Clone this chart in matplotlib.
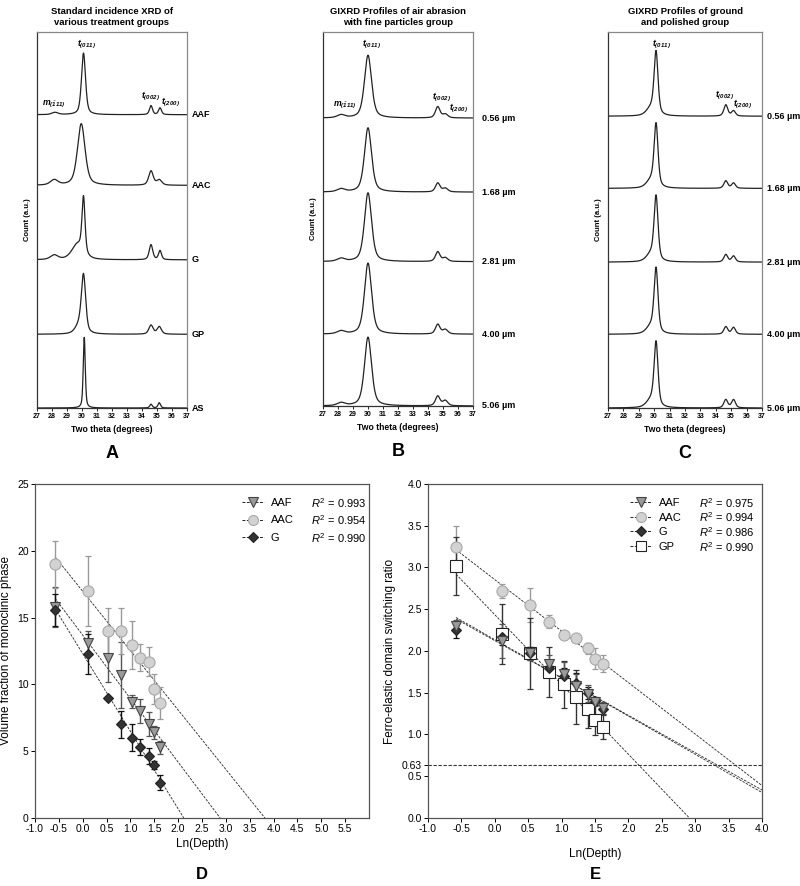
import numpy as np
import matplotlib
matplotlib.use('Agg')
import matplotlib.pyplot as plt
from matplotlib.lines import Line2D

plt.rcParams['font.family'] = ['Liberation Sans', 'DejaVu Sans']
plt.rcParams['mathtext.fontset'] = 'custom'
plt.rcParams['mathtext.rm'] = 'Liberation Sans'
plt.rcParams['mathtext.it'] = 'Liberation Sans:italic'
plt.rcParams['mathtext.bf'] = 'Liberation Sans:bold:italic'

# ---------------- XRD data (peak centre, height, half width) ----------------
two_theta_ticks = list(range(27, 38))

a_names = ['AAF', 'AAC', 'G', 'GP', 'AS']
a_offsets = [3.9, 2.96, 1.97, 0.98, 0.0]
a_centres = [[28.2, 30.1, 34.6, 35.2],
             [28.15, 29.95, 34.6, 35.15],
             [28.15, 29.7, 30.1, 34.6, 35.2],
             [29.8, 30.1, 34.6, 35.15],
             [30.15, 34.6, 35.15]]
a_heights = [[0.03, 0.82, 0.12, 0.09],
             [0.07, 0.82, 0.19, 0.07],
             [0.06, 0.2, 0.74, 0.2, 0.12],
             [0.1, 0.76, 0.12, 0.1],
             [0.94, 0.05, 0.07]]
a_widths = [[0.25, 0.16, 0.12, 0.12],
            [0.3, 0.3, 0.18, 0.2],
            [0.3, 0.45, 0.12, 0.14, 0.12],
            [0.3, 0.17, 0.17, 0.17],
            [0.08, 0.1, 0.1]]

depth_labels = ['0.56 \u00b5m', '1.68 \u00b5m', '2.81 \u00b5m', '4.00 \u00b5m', '5.06 \u00b5m']

b_offsets = [3.85, 2.86, 1.93, 0.96, 0.0]
b_centres = [[28.2, 30.0, 34.65, 35.15]] * 5
b_heights = [[0.04, 0.84, 0.15, 0.05],
             [0.04, 0.86, 0.12, 0.05],
             [0.04, 0.92, 0.13, 0.05],
             [0.04, 0.95, 0.13, 0.06],
             [0.04, 0.92, 0.13, 0.07]]
b_widths = [[0.3, 0.28, 0.18, 0.2]] * 5

c_offsets = [3.88, 2.92, 1.94, 0.98, 0.0]
c_centres = [[29.8, 30.12, 34.65, 35.15]] * 5
c_heights = [[0.1, 0.82, 0.15, 0.07],
             [0.1, 0.82, 0.1, 0.07],
             [0.1, 0.84, 0.1, 0.08],
             [0.1, 0.84, 0.1, 0.09],
             [0.1, 0.84, 0.11, 0.11]]
c_widths = [[0.35, 0.15, 0.15, 0.15]] * 5

# ---------------- Depth-profile data ----------------
ln_depth = [-0.58, 0.11, 0.52, 0.81, 1.03, 1.21, 1.39, 1.50, 1.62]

vf_aaf = [15.8, 13.1, 12.0, 10.7, 8.7, 8.0, 7.0, 6.4, 5.3]
vf_aaf_err = [1.5, 0.9, 1.8, 2.5, 0.5, 0.9, 0.9, 0.5, 0.5]
vf_aac = [19.0, 17.0, 14.0, 14.0, 12.95, 12.0, 11.7, 9.65, 8.6]
vf_aac_err = [1.75, 2.6, 1.7, 1.7, 1.8, 1.0, 1.1, 1.15, 1.2]
vf_g = [15.6, 12.3, 9.0, 7.0, 6.0, 5.3, 4.65, 4.0, 2.65]
vf_g_err = [1.2, 1.5, 0.0, 1.0, 1.0, 0.6, 0.6, 0.3, 0.55]
vf_r2 = ['0.993', '0.954', '0.990']

fe_aaf = [2.3, 2.12, 1.97, 1.85, 1.72, 1.58, 1.49, 1.39, 1.32]
fe_aaf_err = [0.07, 0.2, 0.08, 0.1, 0.15, 0.15, 0.1, 0.05, 0.07]
fe_aac = [3.25, 2.72, 2.55, 2.35, 2.19, 2.15, 2.03, 1.91, 1.85]
fe_aac_err = [0.25, 0.08, 0.2, 0.08, 0.03, 0.03, 0.07, 0.13, 0.1]
fe_g = [2.25, 2.17, 1.97, 1.8, 1.7, 1.62, 1.5, 1.4, 1.3]
fe_g_err = [0.09, 0.1, 0.08, 0.07, 0.1, 0.12, 0.07, 0.05, 0.05]
fe_gp = [3.02, 2.2, 1.97, 1.75, 1.6, 1.45, 1.3, 1.17, 1.09]
fe_gp_err = [0.35, 0.36, 0.42, 0.3, 0.28, 0.32, 0.22, 0.18, 0.14]
fe_r2 = ['0.975', '0.994', '0.986', '0.990']
threshold = 0.63


def profile(x, centres, heights, widths):
    y = np.zeros_like(x)
    for c, h, w in zip(centres, heights, widths):
        u = (x - c) / w
        y += h * (0.5 / (1 + u ** 2) + 0.5 * np.exp(-np.log(2) * u ** 2))
    return y


fig = plt.figure(figsize=(8, 8.86), dpi=100)
tt = np.linspace(27, 37, 1200)


def xrd_panel(rect, title, offsets, centres, heights, widths, labels, lab_x, letter):
    ax = fig.add_axes(rect)
    for off, c, h, w in zip(offsets, centres, heights, widths):
        ax.plot(tt, off + profile(tt, c, h, w), color='#222222', lw=0.9)
    for off, lab in zip(offsets, labels):
        ax.text(lab_x, off, lab, fontsize=6.5, fontweight='bold', va='center',
                ha='left', clip_on=False)
    ax.set_xlim(27, 37)
    ax.set_ylim(0, 5)
    ax.set_yticks([])
    ax.set_xticks(two_theta_ticks)
    ax.set_xticklabels([str(t) for t in two_theta_ticks], fontsize=5, fontweight='bold')
    ax.tick_params(axis='x', length=2, width=0.6, pad=1.5)
    for s in ax.spines.values():
        s.set_color('#888888')
        s.set_linewidth(0.9)
    ax.spines['left'].set_color('#333333')
    ax.spines['bottom'].set_color('#333333')
    ax.set_title(title, fontsize=6.8, fontweight='bold', pad=5, linespacing=1.25)
    ax.set_ylabel('Count (a.u.)', fontsize=5.5, fontweight='bold', labelpad=4)
    ax.set_xlabel('Two theta (degrees)', fontsize=6.2, fontweight='bold', labelpad=4)
    ax.text(0.5, -0.122, letter, transform=ax.transAxes, fontsize=13,
            fontweight='bold', ha='center', va='center')
    return ax


axA = xrd_panel([0.04625, 0.5395, 0.1875, 0.4244],
                'Standard incidence XRD of\nvarious treatment groups',
                a_offsets, a_centres, a_heights, a_widths, a_names, 37.33, 'A')
axB = xrd_panel([0.40375, 0.5418, 0.1875, 0.422],
                'GIXRD Profiles of air abrasion\nwith fine particles group',
                b_offsets, b_centres, b_heights, b_widths, depth_labels, 37.6, 'B')
axC = xrd_panel([0.76, 0.5395, 0.1925, 0.4244],
                'GIXRD Profiles of ground\nand polished group',
                c_offsets, c_centres, c_heights, c_widths, depth_labels, 37.3, 'C')

pk = dict(fontsize=6.2, ha='center', va='center')
axA.text(30.3, 4.83, r'$\mathbf{t_{(011)}}$', **pk)
axA.text(28.1, 4.03, r'$\mathbf{m_{(\bar{1}11)}}$', **pk)
axA.text(34.53, 4.14, r'$\mathbf{t_{(002)}}$', **pk)
axA.text(35.87, 4.06, r'$\mathbf{t_{(200)}}$', **pk)
axB.text(30.2, 4.83, r'$\mathbf{t_{(011)}}$', **pk)
axB.text(28.47, 4.02, r'$\mathbf{m_{(\bar{1}11)}}$', **pk)
axB.text(34.87, 4.13, r'$\mathbf{t_{(002)}}$', **pk)
axB.text(36.0, 3.98, r'$\mathbf{t_{(200)}}$', **pk)
axC.text(30.44, 4.84, r'$\mathbf{t_{(011)}}$', **pk)
axC.text(34.53, 4.16, r'$\mathbf{t_{(002)}}$', **pk)
axC.text(35.7, 4.03, r'$\mathbf{t_{(200)}}$', **pk)

# ---------------- depth panels ----------------
styles = {
    'AAF': dict(marker='v', mfc='#9a9a9a', mec='#444444', ms=7.5, ecolor='#555555'),
    'AAC': dict(marker='o', mfc='#d2d2d2', mec='#a8a8a8', ms=8, ecolor='#9a9a9a'),
    'G': dict(marker='D', mfc='#333333', mec='#222222', ms=5.5, ecolor='#111111'),
    'GP': dict(marker='s', mfc='white', mec='#222222', ms=8, ecolor='#333333'),
}


def depth_panel(rect, series, legend_order, xmax, xlim, ylim, ylabel, letter,
                leg_xy, spacing, xlabelpad):
    ax = fig.add_axes(rect)
    x = np.array(ln_depth)
    for name, y, err in series:
        st = styles[name]
        y = np.array(y)
        m, b = np.polyfit(x, y, 1)
        x_end = min(xmax, -b / m)
        xs = np.array([x[0], x_end])
        ax.plot(xs, m * xs + b, color='#222222', lw=0.6, dashes=(3, 1.5), zorder=2)
        ax.errorbar(x, y, yerr=err, fmt='none', ecolor=st['ecolor'], elinewidth=1.0,
                    capsize=2, capthick=0.9, zorder=3)
        ax.plot(x, y, ls='none', marker=st['marker'], mfc=st['mfc'], mec=st['mec'],
                ms=st['ms'], mew=0.8, zorder=4)
    handles = []
    for name in legend_order:
        st = styles[name]
        handles.append(Line2D([], [], color='#222222', lw=0.7, dashes=(3, 1.5),
                              marker=st['marker'], mfc=st['mfc'], mec=st['mec'],
                              ms=st['ms'] * 0.9, mew=0.8))
    ax.legend(handles, legend_order, loc='upper left', bbox_to_anchor=leg_xy,
              frameon=False, fontsize=8, handlelength=2.0, handletextpad=0.6,
              labelspacing=spacing, borderpad=0, borderaxespad=0)
    ax.set_xlim(*xlim)
    ax.set_ylim(*ylim)
    ax.tick_params(direction='out', length=3, width=0.7, labelsize=7.5, pad=1.5)
    for s in ax.spines.values():
        s.set_color('#555555')
        s.set_linewidth(0.9)
    ax.set_xlabel('Ln(Depth)', fontsize=8.5, labelpad=xlabelpad)
    ax.set_ylabel(ylabel, fontsize=8.5, labelpad=4)
    ax.text(0.5, -0.168, letter, transform=ax.transAxes, fontsize=12,
            fontweight='bold', ha='center', va='center')
    return ax


axD = depth_panel([0.04375, 0.07675, 0.4175, 0.377],
                  [('AAF', vf_aaf, vf_aaf_err), ('AAC', vf_aac, vf_aac_err),
                   ('G', vf_g, vf_g_err)],
                  ['AAF', 'AAC', 'G'], 6.0, (-1, 6), (0, 25),
                  'Volume fraction of monoclinic phase', 'D', (0.62, 0.958), 0.67, 3)
dx = np.arange(-1.0, 5.51, 0.5)
axD.set_xticks(dx)
axD.set_xticklabels([f'{v:.1f}' for v in dx])
axD.set_yticks([0, 5, 10, 15, 20, 25])

axE = depth_panel([0.535, 0.07675, 0.4175, 0.377],
                  [('AAC', fe_aac, fe_aac_err), ('GP', fe_gp, fe_gp_err),
                   ('G', fe_g, fe_g_err), ('AAF', fe_aaf, fe_aaf_err)],
                  ['AAF', 'AAC', 'G', 'GP'], 4.0, (-1, 4), (0, 4),
                  'Ferro-elastic domain switching ratio', 'E', (0.605, 0.958), 0.41, 10)
axE.axhline(threshold, color='#333333', lw=0.8, dashes=(3, 1.5), zorder=1)
ex = np.arange(-1.0, 4.01, 0.5)
axE.set_xticks(ex)
axE.set_xticklabels([f'{v:.1f}' for v in ex])
ey = [0.0, 0.5, threshold, 1.0, 1.5, 2.0, 2.5, 3.0, 3.5, 4.0]
axE.set_yticks(ey)
axE.set_yticklabels([f'{v:.2f}' if v == threshold else f'{v:.1f}' for v in ey])

# R^2 column next to the legend names
fig.canvas.draw()
for ax, r2 in [(axD, vf_r2), (axE, fe_r2)]:
    inv = ax.transAxes.inverted()
    for t, r in zip(ax.get_legend().get_texts(), r2):
        bb = t.get_window_extent()
        xa, ya = inv.transform((bb.x0 + 40, (bb.y0 + bb.y1) / 2))
        ax.text(xa, ya, r'$R^2$ = ' + r, transform=ax.transAxes, fontsize=8,
                va='center', ha='left')

fig.savefig('out.png', dpi=100)
